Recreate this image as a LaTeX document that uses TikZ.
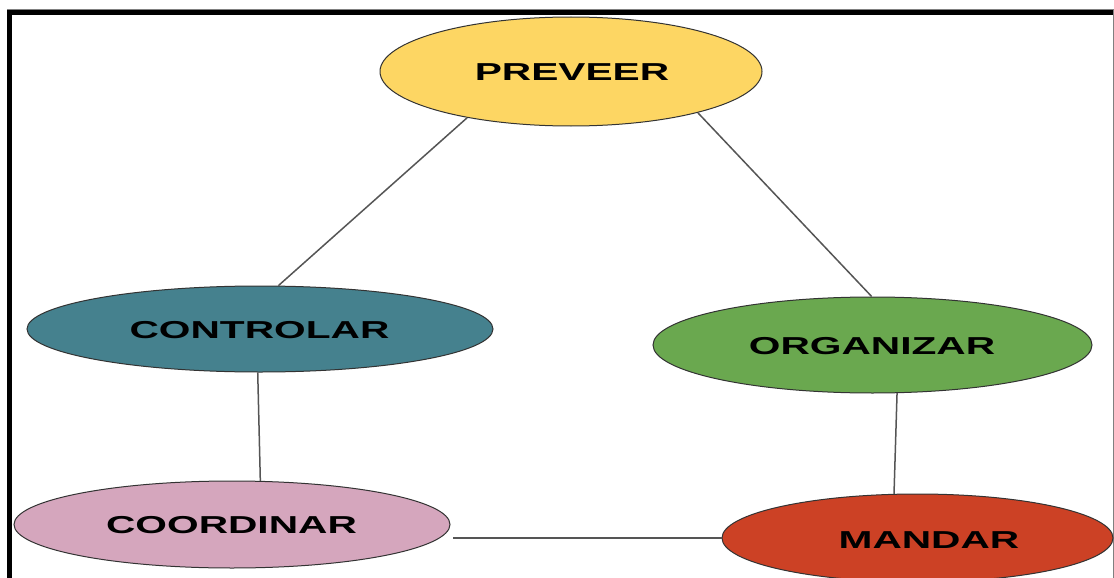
\documentclass[tikz,border=0pt]{standalone}
\usepackage{fontspec}
\usetikzlibrary{shapes.geometric}
\newfontfamily\lblfont[FakeStretch=1.66]{Liberation Sans}
\definecolor{cyellow}{HTML}{FDD663}
\definecolor{cteal}{HTML}{45818E}
\definecolor{cgreen}{HTML}{6AA84F}
\definecolor{cpink}{HTML}{D5A6BD}
\definecolor{cred}{HTML}{CC4125}
\definecolor{outl}{HTML}{333333}
\definecolor{linkc}{HTML}{555555}
\begin{document}
\begin{tikzpicture}[x=1pt,y=-1pt,
  ell/.style={ellipse, draw=outl, line width=1pt, inner sep=0pt},
  lbl/.style={inner sep=0pt, text=black, font=\lblfont\bfseries\fontsize{24.5}{24.5}\selectfont},
  link/.style={draw=linkc, line width=1.5pt}]
\useasboundingbox (0,0) rectangle (1114,578);
% frame
\fill[white] (0,0) rectangle (1114,578);
\draw[gray, line width=1pt] (7,9.5) -- (1114,9.5);
\fill[black] (7,10) rectangle (1114,15);
\fill[black] (7,10) rectangle (12.3,578);
\draw[gray, line width=1pt] (1113,10) -- (1113,578);
% ellipses
\node[ell, fill=cyellow, minimum width=382pt, minimum height=109pt] (preveer) at (571,71.5) {};
\node[ell, fill=cteal, minimum width=466pt, minimum height=86pt] (controlar) at (260,329) {};
\node[ell, fill=cgreen, minimum width=439pt, minimum height=96pt] (organizar) at (872.5,345) {};
\node[ell, fill=cpink, minimum width=436pt, minimum height=87pt] (coordinar) at (232,524.5) {};
\node[ell, fill=cred, minimum width=391pt, minimum height=88pt] (mandar) at (917.5,538) {};
% labels
\node[lbl] (preveer-t) at (572,72.5) {PREVEER};
\node[lbl] (controlar-t) at (259.5,330) {CONTROLAR};
\node[lbl] (organizar-t) at (872,346.5) {ORGANIZAR};
\node[lbl] (coordinar-t) at (231.5,525) {COORDINAR};
\node[lbl] (mandar-t) at (929,540) {MANDAR};
% connectors
\draw[link] (preveer.204.6) -- (controlar.67.8);
\draw[link] (preveer.342) -- (organizar.91);
\draw[link] (controlar.267) -- (coordinar.57);
\draw[link] (organizar.297) -- (mandar.118.7);
\draw[link] (mandar.west) -- ([xshift=2pt]mandar.west -| coordinar.east);
\end{tikzpicture}
\end{document}
